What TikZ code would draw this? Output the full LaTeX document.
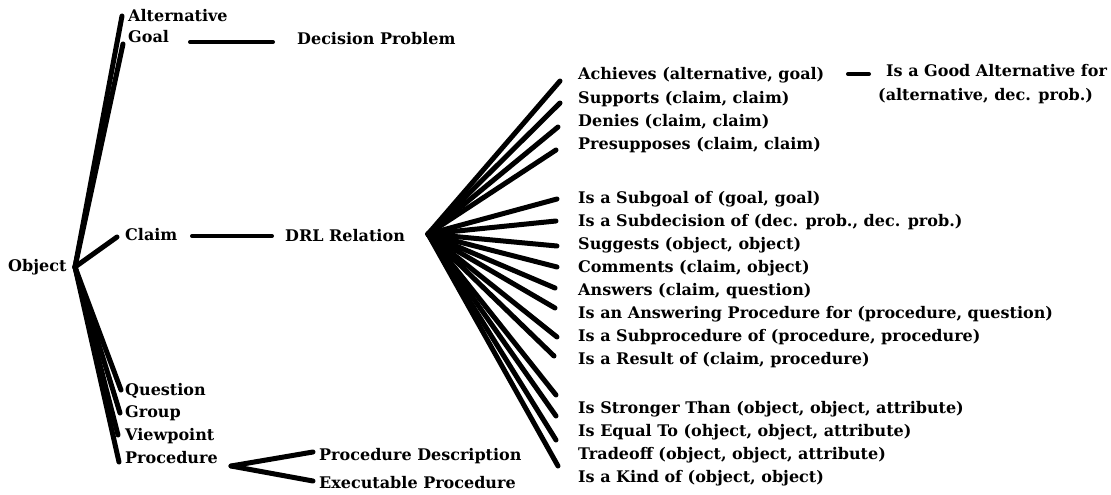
\documentclass[tikz,border=0pt]{standalone}
\usepackage{fontspec}
\setmainfont{DejaVu Serif}
\begin{document}
\begin{tikzpicture}[x=1pt,y=-1pt,
  lbl/.style={anchor=base west,inner sep=0pt,font=\bfseries\fontsize{16}{19}\selectfont},
  link/.style={line width=5pt,line cap=round},
  hlink/.style={line width=4pt,line cap=round}]
\useasboundingbox (0,0) rectangle (1111,495);

% root and its subtypes
\node[lbl] (object) at (8,271) {Object};
\node[lbl] (alt)  at (128,22)  {Alternative};
\node[lbl] (goal) at (128,43)  {Goal};
\node[lbl] (dp)   at (297,45)  {Decision Problem};
\node[lbl] (claim) at (125,240) {Claim};
\node[lbl] (drl)  at (285,241) {DRL Relation};
\node[lbl] (quest) at (125,395) {Question};
\node[lbl] (group) at (125,417) {Group};
\node[lbl] (view)  at (125,440) {Viewpoint};
\node[lbl] (proc)  at (125,463) {Procedure};
\node[lbl] (pdesc) at (319,460) {Procedure Description};
\node[lbl] (pexec) at (319,488) {Executable Procedure};

% DRL relations
\node[lbl] (r1)  at (578,80)  {Achieves (alternative, goal)};
\node[lbl] (r2)  at (578,103) {Supports (claim, claim)};
\node[lbl] (r3)  at (578,126) {Denies (claim, claim)};
\node[lbl] (r4)  at (578,149) {Presupposes (claim, claim)};
\node[lbl] (r5)  at (578,203) {Is a Subgoal of (goal, goal)};
\node[lbl] (r6)  at (578,226) {Is a Subdecision of (dec. prob., dec. prob.)};
\node[lbl] (r7)  at (578,249) {Suggests (object, object)};
\node[lbl] (r8)  at (578,272) {Comments (claim, object)};
\node[lbl] (r9)  at (578,295) {Answers (claim, question)};
\node[lbl] (r10) at (578,318) {Is an Answering Procedure for (procedure, question)};
\node[lbl] (r11) at (578,341) {Is a Subprocedure of (procedure, procedure)};
\node[lbl] (r12) at (578,364) {Is a Result of (claim, procedure)};
\node[lbl] (r13) at (578,413) {Is Stronger Than (object, object, attribute)};
\node[lbl] (r14) at (578,436) {Is Equal To (ohject, object, attribute)};
\node[lbl] (r15) at (578,459) {Tradeoff (object, object, attribute)};
\node[lbl] (r16) at (578,482) {Is a Kind of (object, object)};
\node[lbl] (good)  at (886,77)  {Is a Good Alternative for};
\node[lbl] (good2) at (878,100) {(alternative, dec. prob.)};

% branch points
\coordinate (oj) at (75,267);
\coordinate (rj) at (428,234);
\coordinate (pj) at (231,466);

% Object subtypes
\draw[link] (oj) -- ([shift={(-6,-6)}]alt.base west);
\draw[link] (oj) -- ([shift={(-5,1)}]goal.base west);
\draw[link] (oj) -- ([shift={(-8,-3)}]claim.base west);
\draw[link] (oj) -- ([shift={(-4,-5)}]quest.base west);
\draw[link] (oj) -- ([shift={(-5,-4)}]group.base west);
\draw[link] (oj) -- ([shift={(-7,-5)}]view.base west);
\draw[link] (oj) -- ([shift={(-6,-1)}]proc.base west);

% horizontal links
\draw[hlink] ([shift={(62,-1)}]goal.base west) -- ([shift={(-24,-3)}]dp.base west);
\draw[hlink] ([shift={(67,-4)}]claim.base west) -- ([shift={(-13,-5)}]drl.base west);
\draw[hlink] ([shift={(270,-6)}]r1.base west) -- ([shift={(-17,-3)}]good.base west);

% Procedure subtypes
\draw[link] (pj) -- ([shift={(-6,-8)}]pdesc.base west);
\draw[link] (pj) -- ([shift={(-6,-7)}]pexec.base west);

% DRL relation fan
\draw[link] (rj) -- ([shift={(-18,1)}]r1.base west);
\draw[link] (rj) -- ([shift={(-18,0)}]r2.base west);
\draw[link] (rj) -- ([shift={(-20,1)}]r3.base west);
\draw[link] (rj) -- ([shift={(-22,1)}]r4.base west);
\draw[link] (rj) -- ([shift={(-21,-4)}]r5.base west);
\draw[link] (rj) -- ([shift={(-22,-5)}]r6.base west);
\draw[link] (rj) -- ([shift={(-21,-3)}]r7.base west);
\draw[link] (rj) -- ([shift={(-21,-5)}]r8.base west);
\draw[link] (rj) -- ([shift={(-23,-7)}]r9.base west);
\draw[link] (rj) -- ([shift={(-23,-10)}]r10.base west);
\draw[link] (rj) -- ([shift={(-21,-4)}]r11.base west);
\draw[link] (rj) -- ([shift={(-24,-8)}]r12.base west);
\draw[link] (rj) -- ([shift={(-22,-18)}]r13.base west);
\draw[link] (rj) -- ([shift={(-22,-20)}]r14.base west);
\draw[link] (rj) -- ([shift={(-22,-19)}]r15.base west);
\draw[link] (rj) -- ([shift={(-20,-16)}]r16.base west);
\end{tikzpicture}
\end{document}
